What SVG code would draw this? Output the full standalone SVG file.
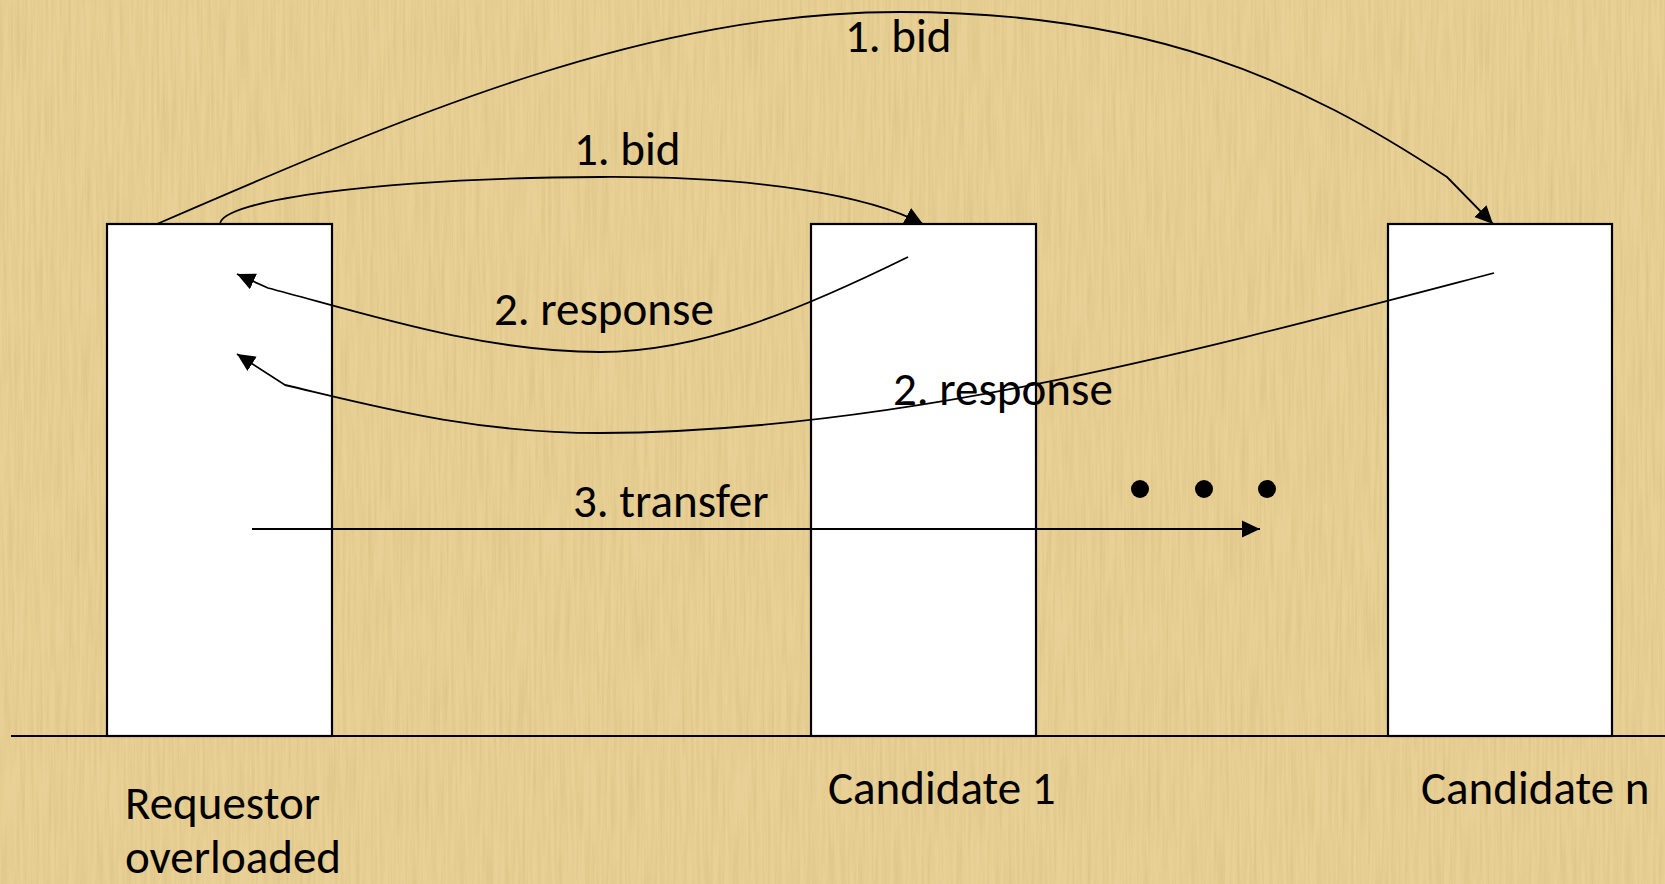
<svg xmlns="http://www.w3.org/2000/svg" width="1665" height="884" viewBox="0 0 1665 884">
<style>
.box{fill:#ffffff;stroke:#000000;stroke-width:2.2}
.conn{fill:none;stroke:#000000;stroke-width:1.8}
.lbl{font-family:Carlito,Calibri,Lato,"Liberation Sans",sans-serif;font-size:47px;fill:#000000}
</style>
<defs>
<marker id="arr" markerUnits="userSpaceOnUse" markerWidth="20" markerHeight="20" viewBox="0 0 20 20" refX="18" refY="10" orient="auto">
<path d="M0,1.5 L18,10 L0,18.5 Z" fill="#000000"/>
</marker>
<filter id="tex" x="0" y="0" width="100%" height="100%">
<feTurbulence type="fractalNoise" baseFrequency="0.35 0.012" numOctaves="3" seed="4" result="n"/>
<feColorMatrix in="n" type="matrix" values="0 0 0 0 0.55  0 0 0 0 0.42  0 0 0 0 0.15  0 0 0 -1.6 1.05"/>
</filter>
</defs>
<g id="background">
<rect x="0" y="0" width="1665" height="884" fill="#E9D096"/>
<rect x="0" y="0" width="1665" height="884" filter="url(#tex)" opacity="0.35"/>
</g>
<g id="ground"><line x1="11" y1="736" x2="1665" y2="736" stroke="#000" stroke-width="2.2"/></g>
<g id="requestor"><rect class="box" x="107" y="224" width="225" height="512"/>
<text class="lbl" x="125" y="819">Requestor</text>
<text class="lbl" x="125" y="873">overloaded</text></g>
<g id="candidate1"><rect class="box" x="811" y="224" width="225" height="512"/>
<text class="lbl" x="828" y="804">Candidate 1</text></g>
<g id="candidaten"><rect class="box" x="1388" y="224" width="224" height="512"/>
<text class="lbl" x="1421" y="804">Candidate n</text></g>
<g id="ellipsis">
<circle cx="1140" cy="489" r="9" fill="#000"/>
<circle cx="1204" cy="489" r="9" fill="#000"/>
<circle cx="1267" cy="489" r="9" fill="#000"/>
</g>
<g id="connectors">
<path class="conn" d="M157,224 C420,110 650,12 900,12 C1150,12 1300,80 1447,177 L1493,224" marker-end="url(#arr)"/>
<path class="conn" stroke-width="2.4" d="M220,224 C222,200 380,178 600,177 C760,176 870,196 923,224" marker-end="url(#arr)"/>
<path class="conn" d="M908,257 C800,310 700,352 600,352 C480,352 360,312 268,288 L237,274" marker-end="url(#arr)"/>
<path class="conn" d="M1494,273 C1200,350 900,432 600,433 C470,433 370,405 285,385 L237,354" marker-end="url(#arr)"/>
<path class="conn" stroke-width="2.8" d="M252,529 L1260,529" marker-end="url(#arr)"/>
</g>
<g id="labels">
<text class="lbl" x="845" y="52">1. bid</text>
<text class="lbl" x="574" y="165">1. bid</text>
<text class="lbl" x="494" y="325">2. response</text>
<text class="lbl" x="893" y="405">2. response</text>
<text class="lbl" x="573" y="517">3. transfer</text>
</g>
</svg>
